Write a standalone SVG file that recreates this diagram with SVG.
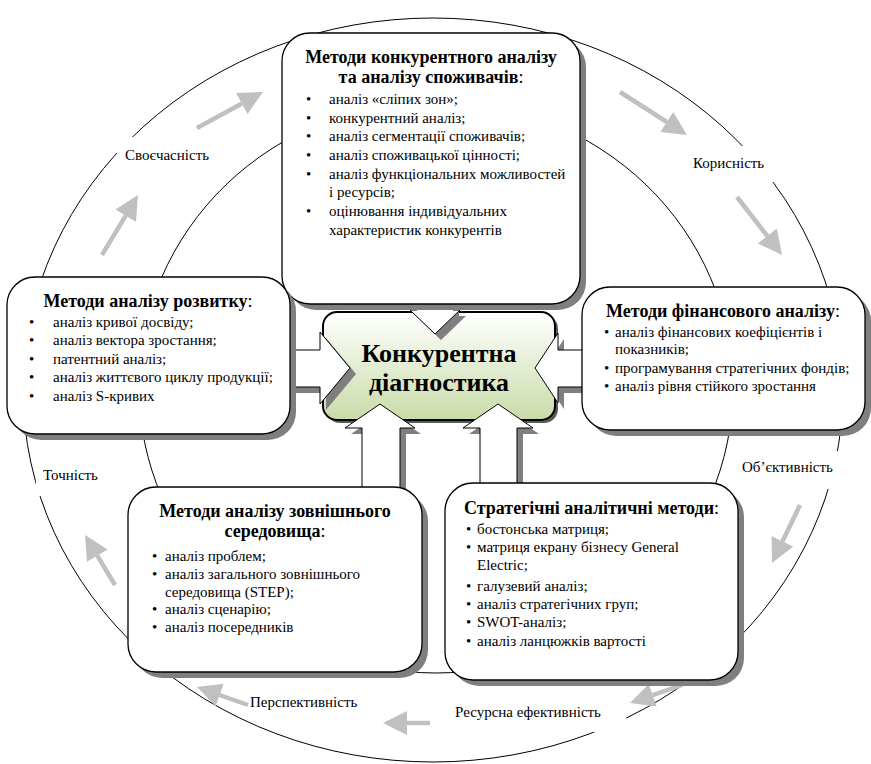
<svg xmlns="http://www.w3.org/2000/svg" width="871" height="764" viewBox="0 0 871 764">
<defs>
<linearGradient id="gg" x1="0" y1="0" x2="0" y2="1">
<stop offset="0" stop-color="#ffffff"/>
<stop offset="1" stop-color="#c9dba8"/>
</linearGradient>
<style>
text{font-family:'Liberation Serif',serif;font-size:15px;fill:#000}
.h{font-size:18px}
.b{font-weight:bold}
.c{font-size:26px;font-weight:bold}
.ring{fill:none;stroke:#000;stroke-width:1}
.box{fill:#fff;stroke:#000;stroke-width:1.3}
.sh{fill:#7f7f7f}
.ga{stroke:#c0c0c0;stroke-width:4.5;fill:none}
.gh{fill:#c0c0c0}
.arr{fill:#fff;stroke:#000;stroke-width:1}
.wb{fill:#fff}
</style>
</defs>
<rect width="871" height="764" fill="#fff"/>
<g id="rings">
<ellipse class="ring" cx="433" cy="390" rx="410" ry="372"/>
<ellipse class="ring" cx="436" cy="387" rx="297" ry="286"/>
</g>
<g id="labels">
<rect class="wb" x="117" y="137" width="100" height="30"/>
<text x="125" y="160">Своєчасність</text>
<rect class="wb" x="688" y="146" width="87" height="36"/>
<text x="693" y="168">Корисність</text>
<rect class="wb" x="738" y="451" width="102" height="38"/>
<text x="742" y="472">Об’єктивність</text>
<rect class="wb" x="450" y="700" width="176" height="32"/>
<text x="455" y="717">Ресурсна ефективність</text>
<text x="250" y="707">Перспективність</text>
<rect class="wb" x="36" y="466" width="64" height="30"/>
<text x="43" y="480">Точність</text>
</g>
<g id="cycle-arrows">
<line class="ga" x1="197" y1="128" x2="242" y2="103.5"/><polygon class="gh" points="263,92 247.6,114 236.1,93"/>
<line class="ga" x1="102" y1="255" x2="125.7" y2="215.6"/><polygon class="gh" points="138,195 136,221.8 115.4,209.4"/>
<line class="ga" x1="620" y1="92" x2="666.8" y2="122"/><polygon class="gh" points="687,135 660.3,132.1 673.3,111.9"/>
<line class="ga" x1="737" y1="197" x2="767.3" y2="236"/><polygon class="gh" points="782,255 757.8,243.4 776.8,228.6"/>
<line class="ga" x1="800" y1="505" x2="782.4" y2="541.4"/><polygon class="gh" points="772,563 771.6,536.2 793.2,546.6"/>
<line class="ga" x1="682" y1="685" x2="652.7" y2="695.2"/><polygon class="gh" points="630,703 648.8,683.9 656.6,706.5"/>
<line class="ga" x1="430" y1="723" x2="407" y2="723"/><polygon class="gh" points="383,723 407,711 407,735"/>
<line class="ga" x1="248" y1="705" x2="219.6" y2="695"/><polygon class="gh" points="197,687 223.6,683.7 215.6,706.3"/>
<line class="ga" x1="115" y1="585" x2="97.3" y2="555.6"/><polygon class="gh" points="85,535 107.6,549.4 87,561.8"/>
</g>
<g id="center">
<rect x="326" y="315" width="232" height="108" rx="14" fill="#5a5a5a"/>
<rect x="323" y="312" width="232" height="108" rx="14" fill="url(#gg)" stroke="#000" stroke-width="2"/>
</g>
<g id="connectors">
<g transform="translate(6,6)" class="sh">
<polygon points="417,295 453,295 453,310 460,310 435,334 410,310 417,310"/>
<polygon points="280,350 320,350 320,332 350,368 320,404 320,387 280,387"/>
<polygon points="592,350 558,350 558,333 535,368 558,403 558,387 592,387"/>
<polygon points="362,510 362,428 345,428 380,404 415,428 400,428 400,510"/>
<polygon points="480,500 480,428 463,428 498,404 533,428 517,428 517,500"/>
</g>
<polygon class="arr" points="417,295 453,295 453,310 460,310 435,334 410,310 417,310"/>
<polygon class="arr" points="280,350 320,350 320,332 350,368 320,404 320,387 280,387"/>
<polygon class="arr" points="592,350 558,350 558,333 535,368 558,403 558,387 592,387"/>
<polygon class="arr" points="362,510 362,428 345,428 380,404 415,428 400,428 400,510"/>
<polygon class="arr" points="480,500 480,428 463,428 498,404 533,428 517,428 517,500"/>
</g>
<g id="center-text">
<text class="c" x="439" y="362" text-anchor="middle">Конкурентна</text>
<text class="c" x="439" y="391" text-anchor="middle">діагностика</text>
</g>
<g id="top-box">
<rect class="sh" x="288" y="39" width="298" height="271" rx="28"/>
<rect class="box" x="282" y="33" width="298" height="271" rx="28"/>
<text class="h" x="431" y="63" text-anchor="middle"><tspan class="b">Методи конкурентного аналізу</tspan></text>
<text class="h" x="431" y="83" text-anchor="middle"><tspan class="b">та аналізу споживачів</tspan>:</text>
<text x="306" y="104">•</text><text x="329" y="104">аналіз «сліпих зон»;</text>
<text x="306" y="123">•</text><text x="329" y="123">конкурентний аналіз;</text>
<text x="306" y="141">•</text><text x="329" y="141">аналіз сегментації споживачів;</text>
<text x="306" y="160">•</text><text x="329" y="160">аналіз споживацької цінності;</text>
<text x="306" y="179">•</text><text x="329" y="179">аналіз функціональних можливостей</text>
<text x="329" y="197">і ресурсів;</text>
<text x="306" y="216">•</text><text x="329" y="216">оцінювання індивідуальних</text>
<text x="329" y="235">характеристик конкурентів</text>
</g>
<g id="left-box">
<rect class="sh" x="13" y="283" width="283" height="157" rx="28"/>
<rect class="box" x="7" y="277" width="283" height="157" rx="28"/>
<text class="h" x="148" y="307" text-anchor="middle"><tspan class="b">Методи аналізу розвитку</tspan>:</text>
<text x="29" y="327">•</text><text x="53" y="327">аналіз кривої досвіду;</text>
<text x="29" y="345">•</text><text x="53" y="345">аналіз вектора зростання;</text>
<text x="29" y="364">•</text><text x="53" y="364">патентний аналіз;</text>
<text x="29" y="382">•</text><text x="53" y="382">аналіз життєвого циклу продукції;</text>
<text x="29" y="401">•</text><text x="53" y="401">аналіз S-кривих</text>
</g>
<g id="right-box">
<rect class="sh" x="588" y="293" width="283" height="143" rx="28"/>
<rect class="box" x="582" y="287" width="283" height="143" rx="28"/>
<text class="h" x="723" y="317" text-anchor="middle"><tspan class="b">Методи фінансового аналізу</tspan>:</text>
<text x="604" y="337">•</text><text x="615" y="337">аналіз фінансових коефіцієнтів і</text>
<text x="615" y="354">показників;</text>
<text x="604" y="373">•</text><text x="615" y="373">програмування стратегічних фондів;</text>
<text x="604" y="391">•</text><text x="615" y="391">аналіз рівня стійкого зростання</text>
</g>
<g id="bottom-left-box">
<rect class="sh" x="134" y="493" width="294" height="185" rx="28"/>
<rect class="box" x="128" y="487" width="294" height="185" rx="28"/>
<text class="h" x="275" y="517" text-anchor="middle"><tspan class="b">Методи аналізу зовнішнього</tspan></text>
<text class="h" x="275" y="537" text-anchor="middle"><tspan class="b">середовища</tspan>:</text>
<text x="152" y="561">•</text><text x="165" y="561">аналіз проблем;</text>
<text x="152" y="579">•</text><text x="165" y="579">аналіз загального зовнішнього</text>
<text x="165" y="597">середовища (STEP);</text>
<text x="152" y="614">•</text><text x="165" y="614">аналіз сценарію;</text>
<text x="152" y="632">•</text><text x="165" y="632">аналіз посередників</text>
</g>
<g id="bottom-right-box">
<rect class="sh" x="451" y="489" width="293" height="197" rx="28"/>
<rect class="box" x="445" y="483" width="293" height="197" rx="28"/>
<text class="h" x="591.5" y="514" text-anchor="middle"><tspan class="b">Стратегічні аналітичні методи</tspan>:</text>
<text x="466" y="534">•</text><text x="477" y="534">бостонська матриця;</text>
<text x="466" y="552">•</text><text x="477" y="552">матриця екрану бізнесу General</text>
<text x="477" y="570">Electric;</text>
<text x="466" y="591">•</text><text x="477" y="591">галузевий аналіз;</text>
<text x="466" y="609">•</text><text x="477" y="609">аналіз стратегічних груп;</text>
<text x="466" y="627">•</text><text x="477" y="627">SWOT-аналіз;</text>
<text x="466" y="646">•</text><text x="477" y="646">аналіз ланцюжків вартості</text>
</g>
</svg>
